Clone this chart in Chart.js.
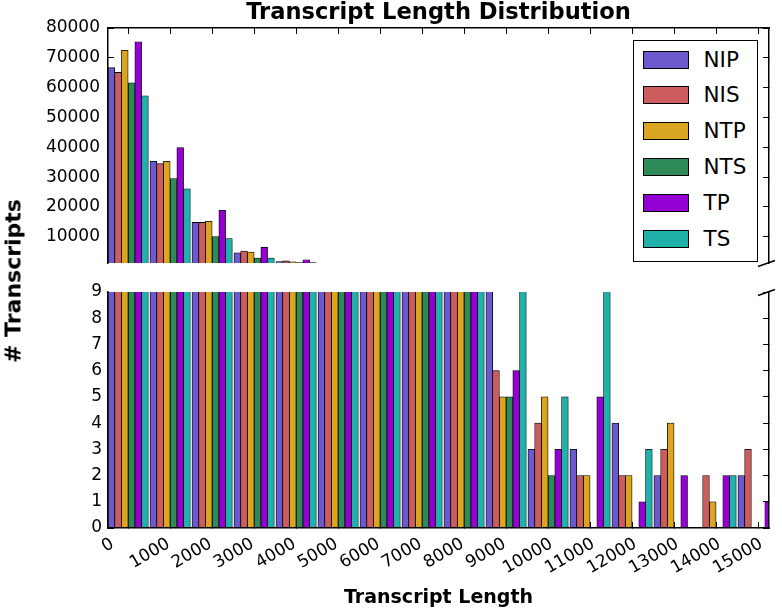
<!DOCTYPE html>
<html>
<head>
<meta charset="utf-8">
<script src="https://cdn.jsdelivr.net/npm/chart.js@4/dist/chart.umd.min.js"></script>
<style>
  body { margin: 0; background: #fff; }
  #wrap { position: relative; width: 782px; height: 611px; font-family: 'DejaVu Sans', sans-serif; overflow: hidden; }
  .box { position: absolute; left: 0; width: 782px; }
  #topBox { top: 0; height: 270px; }
  #botBox { top: 270px; height: 341px; }
  #ytitle { position: absolute; left: 12.5px; top: 281px; transform: translate(-50%, -50%) rotate(-90deg); font-weight: bold; font-size: 22px; white-space: nowrap; }
  #legend { position: absolute; left: 633px; top: 40px; width: 125px; height: 222px; border: 1.5px solid #000; box-sizing: border-box; background: #fff; }
  .item { position: absolute; left: 8.5px; width: 110px; height: 18px; }
  .sw { position: absolute; left: 0; top: 0; width: 46px; height: 18px; border: 1px solid #000; box-sizing: border-box; }
  .lbl { position: absolute; left: 61px; top: 50%; transform: translateY(-50%); font-size: 21.5px; line-height: 1; }
</style>
</head>
<body>
<div id="wrap">
  <div class="box" id="topBox"><canvas id="topChart"></canvas></div>
  <div class="box" id="botBox"><canvas id="botChart"></canvas></div>
  <div id="ytitle"># Transcripts</div>
  <div id="legend"></div>
</div>
<script>
// series, one value per 1000-wide length bin
const seriesNames = ['NIP', 'NIS', 'NTP', 'NTS', 'TP', 'TS'];
const seriesColors = ['#6a5acd', '#cd5c5c', '#daa520', '#2e8b57', '#9400d3', '#20b2aa'];
const binStarts = [0, 1000, 2000, 3000, 4000, 5000, 6000, 7000, 8000, 9000, 10000, 11000, 12000, 13000, 14000, 15000];
const nip = [66700, 35300, 14800, 4600, 1700, 520, 210, 85, 35, 11, 3, 3, 4, 2, 0, 2];
const nis = [65100, 34500, 14800, 5200, 1900, 560, 230, 90, 38, 6, 4, 2, 2, 3, 2, 3];
const ntp = [72500, 35300, 15200, 4850, 1600, 500, 200, 80, 30, 5, 5, 2, 2, 4, 1, 0];
const nts = [61600, 29500, 10100, 2850, 1300, 330, 120, 45, 18, 5, 2, 0, 0, 0, 0, 0];
const tp = [75400, 39900, 18900, 6500, 2300, 800, 330, 140, 55, 6, 3, 5, 1, 2, 2, 1];
const ts = [57300, 26100, 9400, 2850, 1300, 330, 130, 50, 20, 10, 5, 12, 3, 0, 2, 0];
const seriesValues = [nip, nis, ntp, nts, tp, ts];

const xTicks = [0, 1000, 2000, 3000, 4000, 5000, 6000, 7000, 8000, 9000, 10000, 11000, 12000, 13000, 14000, 15000];
const xTickLabels = ['0', '1000', '2000', '3000', '4000', '5000', '6000', '7000', '8000', '9000', '10000', '11000', '12000', '13000', '14000', '15000'];
const yTopTicks = [10000, 20000, 30000, 40000, 50000, 60000, 70000, 80000];
const yBottomTicks = [0, 1, 2, 3, 4, 5, 6, 7, 8, 9];

Chart.defaults.font.family = "'DejaVu Sans', sans-serif";
Chart.defaults.color = '#000';

const barSpan = 160; // width of one bar in length units

function makeDatasets() {
  return seriesNames.map((name, i) => ({
    label: name,
    data: binStarts.map((b, k) => ({ x: b + (i + 0.5) * barSpan, y: seriesValues[i][k] })),
    backgroundColor: seriesColors[i],
    borderColor: '#000',
    borderWidth: 0.8,
    grouped: false,
    barPercentage: 1,
    categoryPercentage: 1,
    clip: 0
  }));
}

function spine(extra) {
  return Object.assign({
    border: { display: true, color: '#000', width: 1.5, z: 1 },
    grid: { display: true, drawOnChartArea: false, drawTicks: true, tickLength: -6, tickColor: '#000', tickWidth: 1 }
  }, extra);
}

const setTicks = vals => scale => { scale.ticks = vals.map(v => ({ value: v })); };
// fixed axis width, and no extra room asked for the end labels
const fixWidth = w => scale => { scale.width = w; scale.paddingTop = 0; scale.paddingBottom = 0; };

const breakMarks = {
  id: 'breakMarks',
  afterDraw(chart, args, opts) {
    const { ctx, chartArea: a } = chart;
    const y = opts.side === 'bottom' ? a.bottom : a.top;
    ctx.save();
    ctx.strokeStyle = '#000';
    ctx.lineWidth = 1.5;
    ctx.beginPath();
    ctx.moveTo(a.right - 11, y + 3.5);
    ctx.lineTo(a.right + 6, y - 2.5);
    ctx.stroke();
    ctx.restore();
  }
};

const rotatedXLabels = {
  id: 'rotatedXLabels',
  afterDraw(chart) {
    const { ctx } = chart;
    const x = chart.scales.x;
    const a = Math.PI / 6;
    ctx.save();
    ctx.font = "17px 'DejaVu Sans'";
    ctx.fillStyle = '#000';
    ctx.textAlign = 'center';
    ctx.textBaseline = 'middle';
    xTicks.forEach((v, i) => {
      const t = xTickLabels[i];
      const w = ctx.measureText(t).width;
      const cx = x.getPixelForValue(v);
      const cy = x.top + 9.5 + (w * Math.sin(a) + 12 * Math.cos(a)) / 2;
      ctx.save();
      ctx.translate(cx, cy);
      ctx.rotate(-a);
      ctx.fillText(t, 0, 0);
      ctx.restore();
    });
    ctx.restore();
  }
};

new Chart(document.getElementById('topChart'), {
  type: 'bar',
  data: { datasets: makeDatasets() },
  plugins: [breakMarks],
  options: {
    responsive: true,
    maintainAspectRatio: false,
    animation: false,
    layout: { padding: { left: 0, right: 0, top: 0, bottom: 7 } },
    plugins: {
      legend: { display: false },
      tooltip: { enabled: false },
      title: {
        display: true,
        fullSize: false,
        text: 'Transcript Length Distribution',
        font: { size: 22.6, weight: 'bold' },
        padding: { top: 0, bottom: 0.9 }
      },
      breakMarks: { side: 'bottom' }
    },
    scales: {
      x: spine({
        type: 'linear', position: 'top', min: 0, max: 15740, offset: false,
        ticks: { display: false },
        afterBuildTicks: setTicks(xTicks),
        afterFit: s => { s.height = 0; }
      }),
      y: spine({
        type: 'linear', position: 'left', min: 1200, max: 80000,
        ticks: { font: { size: 17 }, padding: 14, callback: v => String(v) },
        afterBuildTicks: setTicks(yTopTicks),
        afterFit: fixWidth(108)
      }),
      y2: spine({
        type: 'linear', position: 'right', min: 1200, max: 80000,
        ticks: { display: false },
        afterBuildTicks: setTicks(yTopTicks),
        afterFit: fixWidth(13)
      })
    }
  }
});

new Chart(document.getElementById('botChart'), {
  type: 'bar',
  data: { datasets: makeDatasets() },
  plugins: [breakMarks, rotatedXLabels],
  options: {
    responsive: true,
    maintainAspectRatio: false,
    animation: false,
    layout: { padding: { left: 0, right: 0, top: 22, bottom: 0 } },
    plugins: {
      legend: { display: false },
      tooltip: { enabled: false },
      breakMarks: { side: 'top' }
    },
    scales: {
      x: spine({
        type: 'linear', position: 'bottom', min: 0, max: 15740, offset: false,
        ticks: { display: false },
        title: {
          display: true,
          text: 'Transcript Length',
          font: { size: 19, weight: 'bold' },
          padding: { top: 0, bottom: 1.6 }
        },
        afterBuildTicks: setTicks(xTicks),
        afterFit: s => { s.height = 83; }
      }),
      y: spine({
        type: 'linear', position: 'left', min: 0, max: 9,
        ticks: { font: { size: 17 }, padding: 12 },
        afterBuildTicks: setTicks(yBottomTicks),
        afterFit: fixWidth(108)
      }),
      y2: spine({
        type: 'linear', position: 'right', min: 0, max: 9,
        ticks: { display: false },
        afterBuildTicks: setTicks(yBottomTicks),
        afterFit: fixWidth(13)
      })
    }
  }
});

// legend built from the series names and colours
const legend = document.getElementById('legend');
seriesNames.forEach((name, i) => {
  const item = document.createElement('div');
  item.className = 'item';
  item.style.top = (9.5 + i * 35.8) + 'px';
  item.innerHTML = '<div class="sw" style="background:' + seriesColors[i] + '"></div><div class="lbl">' + name + '</div>';
  legend.appendChild(item);
});
</script>
</body>
</html>
